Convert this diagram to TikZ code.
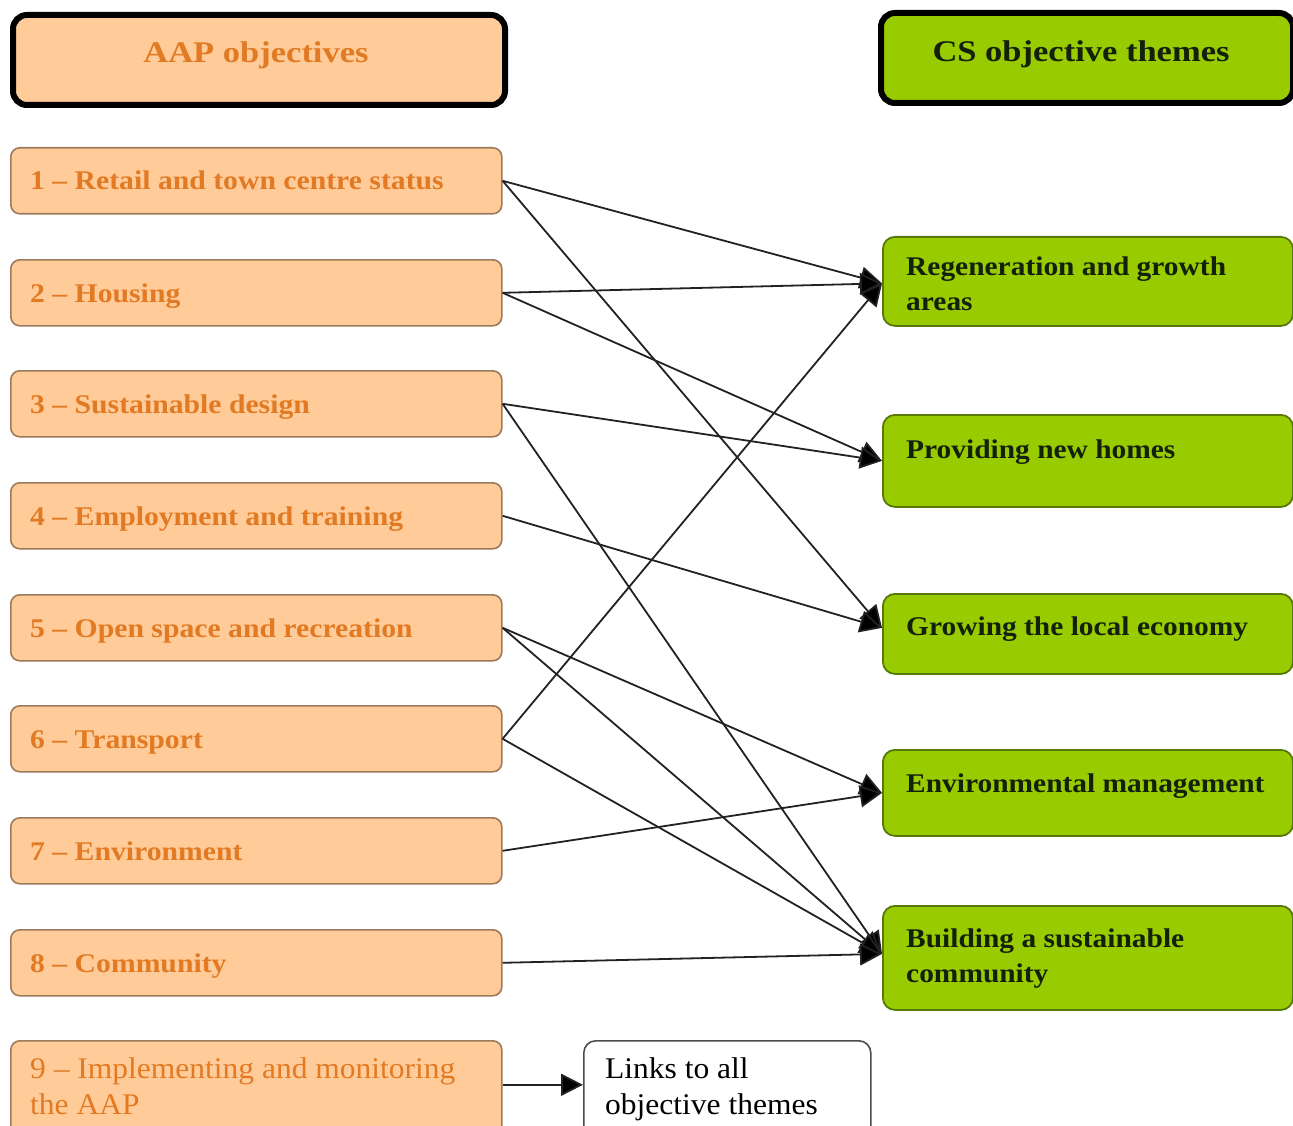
\documentclass[tikz,border=0pt]{standalone}
\usepackage{fontspec}
\setmainfont{Liberation Serif}
\newfontfamily\lfont[FakeStretch=1.10]{Liberation Serif}
\newfontfamily\rfont[FakeStretch=1.09]{Liberation Serif}
\newfontfamily\hfont[FakeStretch=1.15]{Liberation Serif}
\newfontfamily\nfont[FakeStretch=1.05]{Liberation Serif}
\usetikzlibrary{arrows.meta}
\definecolor{peach}{HTML}{FFCC99}
\definecolor{peachline}{HTML}{9C7A5C}
\definecolor{lime}{HTML}{99CC00}
\definecolor{limeline}{HTML}{58780A}
\definecolor{orangetext}{HTML}{E27A24}
\definecolor{darktext}{HTML}{14200A}
\definecolor{linkcol}{HTML}{222222}
\begin{document}
\begin{tikzpicture}[x=1pt,y=-1pt,
  hdrL/.style={draw=black, line width=6pt, fill=peach, rounded corners=14pt, anchor=north west, inner sep=0pt},
  hdrR/.style={draw=black, line width=6pt, fill=lime, rounded corners=14pt, anchor=north west, inner sep=0pt},
  lbox/.style={draw=peachline, line width=1.6pt, fill=peach, rounded corners=9pt, anchor=north west, inner sep=0pt, minimum width=491pt},
  rbox/.style={draw=limeline, line width=1.8pt, fill=lime, rounded corners=12pt, anchor=north west, inner sep=0pt, minimum width=410pt},
  wbox/.style={draw=black!70, line width=1.6pt, fill=white, rounded corners=12pt, anchor=north west, inner sep=0pt, minimum width=287pt},
  ltext/.style={anchor=base west, inner sep=0pt, text=orangetext, font=\lfont\bfseries\fontsize{27}{35}\selectfont},
  rtext/.style={anchor=base west, inner sep=0pt, text=darktext, font=\rfont\bfseries\fontsize{27}{35}\selectfont, align=left},
  htextL/.style={anchor=base, inner sep=0pt, text=orangetext, font=\hfont\bfseries\fontsize{30}{35}\selectfont},
  htextR/.style={anchor=base, inner sep=0pt, text=darktext, font=\hfont\bfseries\fontsize{30}{35}\selectfont},
  ntext/.style={anchor=base west, inner sep=0pt, font=\nfont\fontsize{30}{36}\selectfont, align=left},
  link/.style={draw=linkcol, line width=1.8pt, -{Triangle[length=22pt,width=22pt,fill=black]}}
]
\clip (0,0) rectangle (1293,1126);
\useasboundingbox (0,0) rectangle (1293,1126);
\fill[white] (0,0) rectangle (1293,1126);

% headers
\node[hdrL, minimum width=492pt, minimum height=90pt] (hl) at (10,12) {};
\node[htextL] (hlt) at (256,63) {AAP objectives};
\node[hdrR, minimum width=412pt, minimum height=90pt] (hr) at (878,10) {};
\node[htextR] (hrt) at (1081,62) {CS objective themes};

% left boxes
\node[lbox, minimum height=66pt] (l1) at (10,147) {};
\node[lbox, minimum height=66pt] (l2) at (10,259) {};
\node[lbox, minimum height=66pt] (l3) at (10,370) {};
\node[lbox, minimum height=66pt] (l4) at (10,482) {};
\node[lbox, minimum height=66pt] (l5) at (10,594) {};
\node[lbox, minimum height=66pt] (l6) at (10,705) {};
\node[lbox, minimum height=66pt] (l7) at (10,817) {};
\node[lbox, minimum height=66pt] (l8) at (10,929) {};
\node[lbox, minimum height=100pt] (l9) at (10,1040) {};

\node[ltext] (l1t) at (30,190) {1 – Retail and town centre status};
\node[ltext] (l2t) at (30,302) {2 – Housing};
\node[ltext] (l3t) at (30,413) {3 – Sustainable design};
\node[ltext] (l4t) at (30,525) {4 – Employment and training};
\node[ltext] (l5t) at (30,637) {5 – Open space and recreation};
\node[ltext] (l6t) at (30,748) {6 – Transport};
\node[ltext] (l7t) at (30,860) {7 – Environment};
\node[ltext] (l8t) at (30,972) {8 – Community};
\node[ntext, text=orangetext] (l9t) at (30,1114) {9 – Implementing and monitoring\\the AAP};

% right boxes
\node[rbox, minimum height=89pt] (r1) at (882,236) {};
\node[rbox, minimum height=92pt] (r2) at (882,414) {};
\node[rbox, minimum height=80pt] (r3) at (882,593) {};
\node[rbox, minimum height=86pt] (r4) at (882,749) {};
\node[rbox, minimum height=104pt] (r5) at (882,905) {};

\node[rtext] (r1t) at (906,310) {Regeneration and growth\\areas};
\node[rtext] (r2t) at (906,458) {Providing new homes};
\node[rtext] (r3t) at (906,635) {Growing the local economy};
\node[rtext] (r4t) at (906,792) {Environmental management};
\node[rtext] (r5t) at (906,982) {Building a sustainable\\community};

% white box
\node[wbox, minimum height=100pt] (w) at (583,1040) {};
\node[ntext, text=black] (wt) at (605,1114) {Links to all\\objective themes};

% connectors
\draw[link] (l1.east) -- ([yshift=-2pt]r1.west);
\draw[link] (l1.east) -- ([yshift=6pt]r3.west);
\draw[link] (l2.east) -- ([yshift=-2pt]r1.west);
\draw[link] (l2.east) -- (r2.west);
\draw[link] (l3.east) -- (r2.west);
\draw[link] (l3.east) -- ([yshift=4pt]r5.west);
\draw[link] (l4.east) -- ([yshift=6pt]r3.west);
\draw[link] (l5.east) -- (r4.west);
\draw[link] (l5.east) -- ([yshift=4pt]r5.west);
\draw[link] (l6.east) -- ([yshift=-2pt]r1.west);
\draw[link] (l6.east) -- ([yshift=4pt]r5.west);
\draw[link] (l7.east) -- (r4.west);
\draw[link] (l8.east) -- ([yshift=4pt]r5.west);
\draw[link] ([yshift=6pt]l9.east) -- ([yshift=6pt]w.west);
\end{tikzpicture}
\end{document}
